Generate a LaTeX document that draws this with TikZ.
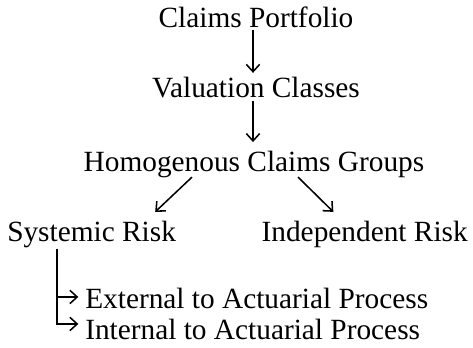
\documentclass[tikz,border=0pt]{standalone}
\usepackage{fontspec}
\setmainfont{Liberation Serif}
\usetikzlibrary{arrows.meta,calc}

\begin{document}
\begin{tikzpicture}[x=0.75pt, y=-0.75pt,
    every node/.style={inner sep=0pt, font=\fontsize{22}{26}\selectfont},
    arr/.style={-{Straight Barb[length=5.5pt,width=10pt]}, line width=1.15pt}]
        \useasboundingbox (0,0) rectangle (473,348);

        \node (cp) [anchor=base] at (256,28) {Claims Portfolio};
        \node (vc) [anchor=base] at (256,98) {Valuation Classes};
        \node (hcg) [anchor=base] at (254,172) {Homogenous Claims Groups};
        \node (sr) [anchor=base west] at (7,242) {Systemic Risk};
        \node (ir) [anchor=base east] at (468,242) {Independent Risk};
        \node (ext) [anchor=base west] at (85,308) {External to Actuarial Process};
        \node (int) [anchor=base west] at (85,339) {Internal to Actuarial Process};

        \draw[arr, shorten <=1pt, shorten >=3.4pt] ($(cp.south)+(-3,0)$) -- ($(vc.north)+(-3,0)$);
        \draw[arr, shorten <=1.5pt, shorten >=7pt] ($(vc.south)+(-3,0)$) -- ($(hcg.north)+(-1,0)$);
        \draw[arr] ($(hcg.south)+(-62,-1.5)$) -- ($(sr.north east)+(-21,-9.5)$);
        \draw[arr] ($(hcg.south)+(44,-1.5)$) -- ($(ir.north west)+(72,-9.5)$);
        \draw[arr, shorten >=5pt] ($(sr.south west)+(50,0)$) |- ($(ext.west)+(0,-1)$);
        \draw[arr, shorten >=5pt] ($(sr.south west)+(50,0)$) |- ($(int.west)+(0,-5)$);
    \end{tikzpicture}
\end{document}
